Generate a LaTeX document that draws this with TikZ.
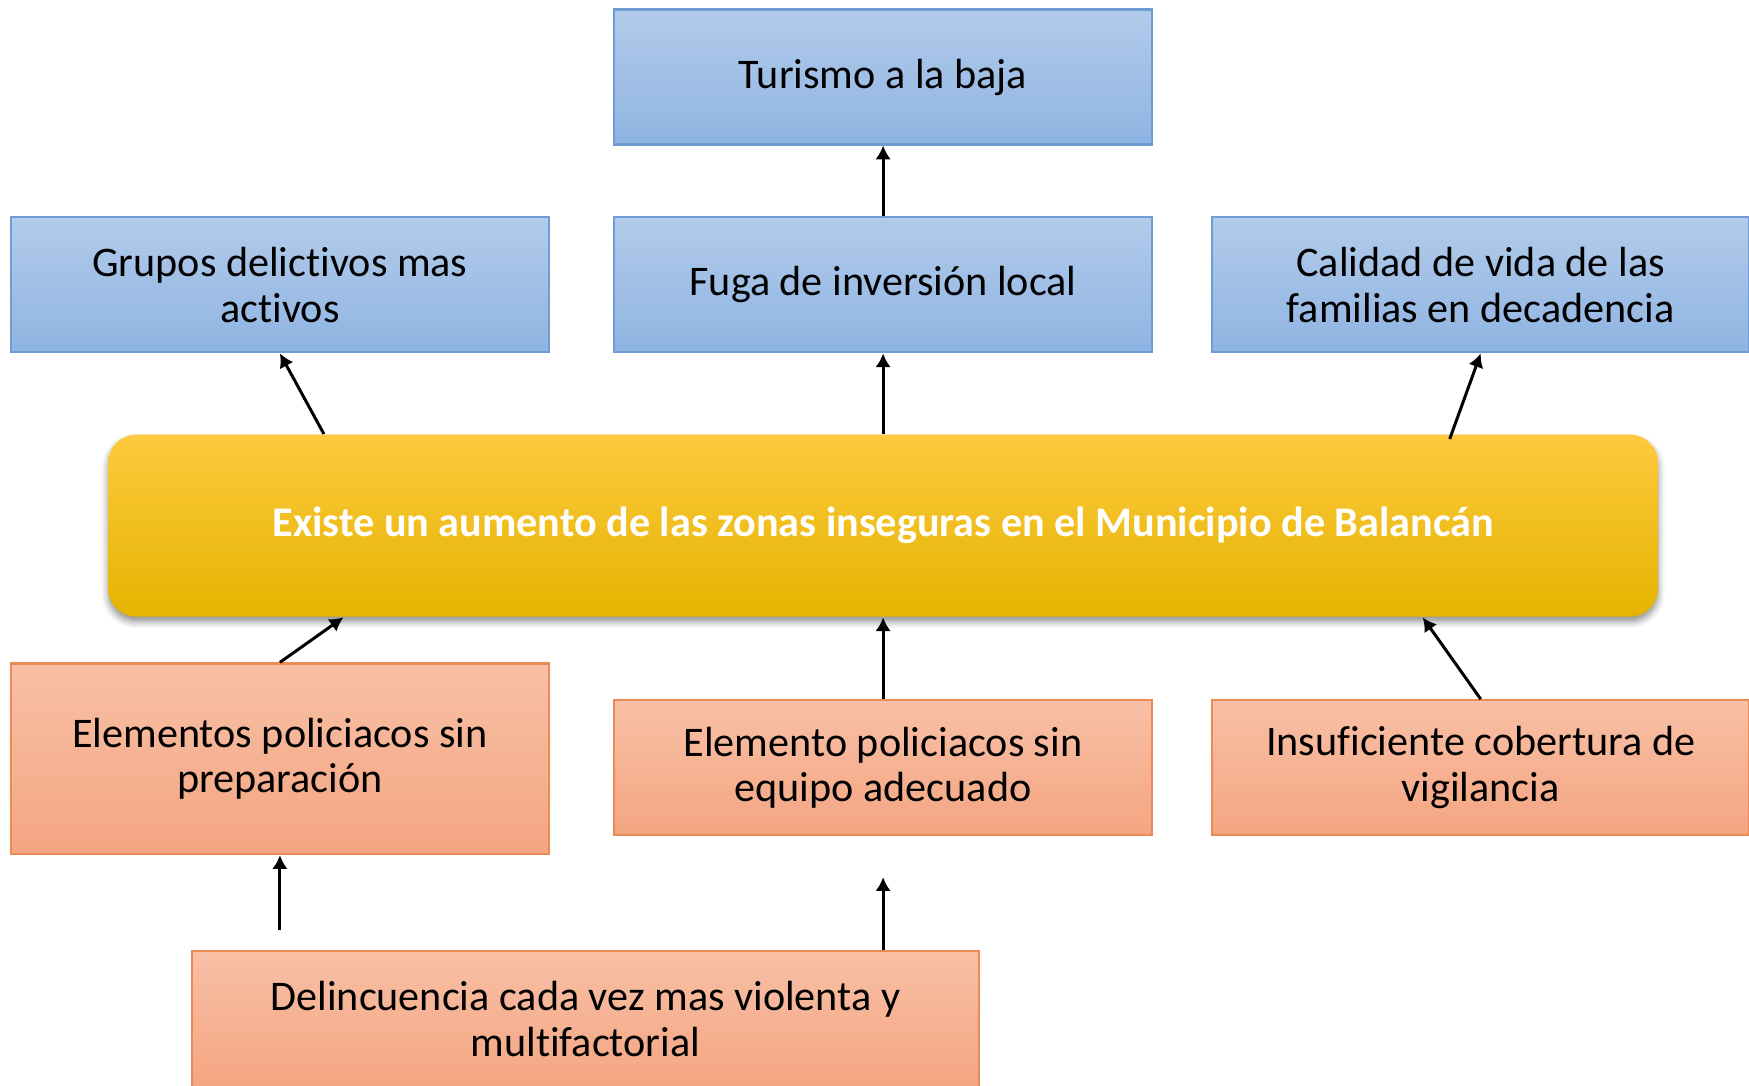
\documentclass[tikz,border=0pt]{standalone}
\usepackage{fontspec}
\setmainfont{Carlito}[Ligatures=CommonOff]
\usetikzlibrary{arrows.meta,shadows.blur}

\definecolor{azularriba}{HTML}{B2CBEA}
\definecolor{azulabajo}{HTML}{8FB4E2}
\definecolor{azulborde}{HTML}{6F9CD4}
\definecolor{naranjaarriba}{HTML}{F8C0A6}
\definecolor{naranjaabajo}{HTML}{F4A581}
\definecolor{naranjaborde}{HTML}{EB8A55}
\definecolor{oroarriba}{HTML}{FEC93E}
\definecolor{oromedio}{HTML}{FEC500}
\definecolor{oroabajo}{HTML}{E4B400}

\begin{document}
\begin{tikzpicture}
[efecto/.style={draw=azulborde, line width=0.6pt, top color=azularriba, bottom color=azulabajo, minimum width=5.374cm, minimum height=1.35cm, inner sep=0pt, align=center, font=\fontsize{12}{13}\selectfont},
causa/.style={draw=naranjaborde, line width=0.6pt, top color=naranjaarriba, bottom color=naranjaabajo, minimum width=5.374cm, minimum height=1.35cm, inner sep=0pt, align=center, font=\fontsize{12}{13}\selectfont},
problema/.style={rounded corners=0.28cm, top color=oroarriba, middle color=oromedio, bottom color=oroabajo, minimum width=15.5cm, minimum height=1.82cm, text=white, font=\bfseries\fontsize{12}{13}\selectfont, blur shadow={shadow xshift=0pt, shadow yshift=-0.05cm, shadow blur steps=6, shadow opacity=45}},
flecha/.style={-{Latex[length=3.9pt,width=4.4pt]}, line width=0.85pt}]
\useasboundingbox (0,0) rectangle (17.49,10.85);
\clip (0,0) rectangle (17.49,10.85);
% problema central
\node [problema] (problema) at (8.831,5.593) {Existe un aumento de las zonas inseguras en el Municipio de Balancán};
% efectos
\node [efecto] (turismo) at (8.831,10.08) {Turismo a la baja};
\node [efecto] (grupos) at (2.799,8.001) {Grupos delictivos mas\\activos};
\node [efecto] (fuga) at (8.831,8.001) {Fuga de inversión local};
\node [efecto] (calidad) at (14.807,8.001) {Calidad de vida de las\\familias en decadencia};
% causas
\node [causa, minimum height=1.907cm] (preparacion) at (2.799,3.262) {Elementos policiacos sin\\preparación};
\node [causa] (equipo) at (8.831,3.173) {Elemento policiacos sin\\equipo adecuado};
\node [causa] (vigilancia) at (14.807,3.173) {Insuficiente cobertura de\\vigilancia};
\node [causa, minimum width=7.872cm, minimum height=1.36cm] (delincuencia) at (5.854,0.66) {Delincuencia cada vez mas violenta y\\multifactorial};
\coordinate (sueltaA) at ([yshift=-0.75cm]preparacion.south);
\coordinate (sueltaB) at ([yshift=-0.41cm]equipo.south);
% flechas
\draw [flecha] (fuga) -- (turismo);
\draw [flecha] ([xshift=0.44cm]grupos.south |- problema.north) -- (grupos.south);
\draw [flecha] (problema.north -| fuga.south) -- (fuga.south);
\draw [flecha] ([xshift=-0.31cm]calidad.south |- problema.north) ++(0,-0.05) -- (calidad.south);
\draw [flecha] (preparacion.north) -- ([xshift=0.635cm]preparacion.north |- problema.south);
\draw [flecha] (equipo.north) -- (equipo.north |- problema.south);
\draw [flecha] (vigilancia.north) -- ([xshift=-0.58cm]vigilancia.north |- problema.south);
\draw [flecha] (sueltaA) -- (preparacion.south);
\draw [flecha] (delincuencia.north -| equipo.south) -- (sueltaB);
\end{tikzpicture}
\end{document}
